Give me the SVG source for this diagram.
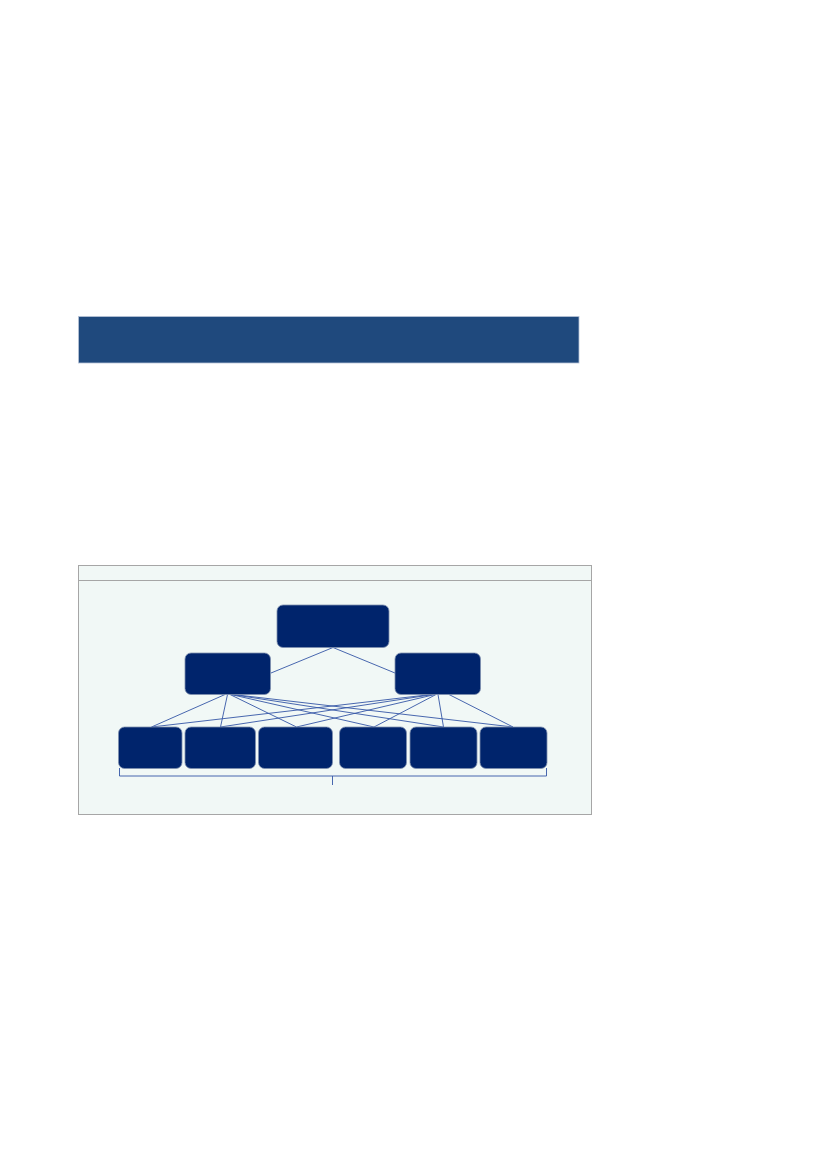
<svg xmlns="http://www.w3.org/2000/svg" width="827" height="1169" viewBox="0 0 827 1169">
<style>
.node{fill:#00246c;stroke:#7f8fae;stroke-width:0.8}
.conn{stroke:#3456a6;stroke-width:0.9;fill:none}
.frame{fill:#f1f8f6;stroke:#a6a6a6;stroke-width:1}
</style>
<rect x="0" y="0" width="827" height="1169" fill="#ffffff"/>
<g id="banner">
<rect x="78.5" y="316.5" width="500.5" height="46.5" fill="#1f497d" stroke="#b7c4d8" stroke-width="0.8"/>
</g>
<g id="frame">
<rect class="frame" x="78.5" y="565.5" width="513" height="249"/>
<line x1="78.5" y1="580.5" x2="591.5" y2="580.5" stroke="#a6a6a6" stroke-width="1"/>
</g>
<g id="connectors">
<line class="conn" x1="333" y1="647.5" x2="271" y2="673"/>
<line class="conn" x1="333" y1="647.5" x2="395" y2="673"/>
<line class="conn" x1="225" y1="694.5" x2="151.5" y2="727"/>
<line class="conn" x1="227.5" y1="694.5" x2="220.5" y2="727"/>
<line class="conn" x1="230" y1="694.5" x2="296.5" y2="727"/>
<line class="conn" x1="231" y1="694.5" x2="374" y2="727"/>
<line class="conn" x1="232" y1="694.5" x2="443.5" y2="727"/>
<line class="conn" x1="233" y1="694.5" x2="513" y2="727"/>
<line class="conn" x1="431" y1="694.5" x2="151.5" y2="727"/>
<line class="conn" x1="433" y1="694.5" x2="220.5" y2="727"/>
<line class="conn" x1="435" y1="694.5" x2="296.5" y2="727"/>
<line class="conn" x1="436" y1="694.5" x2="374" y2="727"/>
<line class="conn" x1="438" y1="694.5" x2="443.5" y2="727"/>
<line class="conn" x1="449" y1="694.5" x2="513" y2="727"/>
<path class="conn" d="M119.5 768 V776 H546.5 V768 M332.5 776 V785" stroke="#7d96c8"/>
</g>
<g id="node-top"><rect class="node" x="277" y="605" width="112" height="42.5" rx="6"/></g>
<g id="node-mid-left"><rect class="node" x="185" y="653" width="85.5" height="41.5" rx="6"/></g>
<g id="node-mid-right"><rect class="node" x="395" y="653" width="85.5" height="41.5" rx="6"/></g>
<g id="node-b1"><rect class="node" x="118.5" y="727" width="63.5" height="41.5" rx="6"/></g>
<g id="node-b2"><rect class="node" x="185" y="727" width="70.5" height="41.5" rx="6"/></g>
<g id="node-b3"><rect class="node" x="258.5" y="727" width="74" height="41.5" rx="6"/></g>
<g id="node-b4"><rect class="node" x="339.5" y="727" width="67" height="41.5" rx="6"/></g>
<g id="node-b5"><rect class="node" x="410" y="727" width="67" height="41.5" rx="6"/></g>
<g id="node-b6"><rect class="node" x="480" y="727" width="67" height="41.5" rx="6"/></g>
</svg>
